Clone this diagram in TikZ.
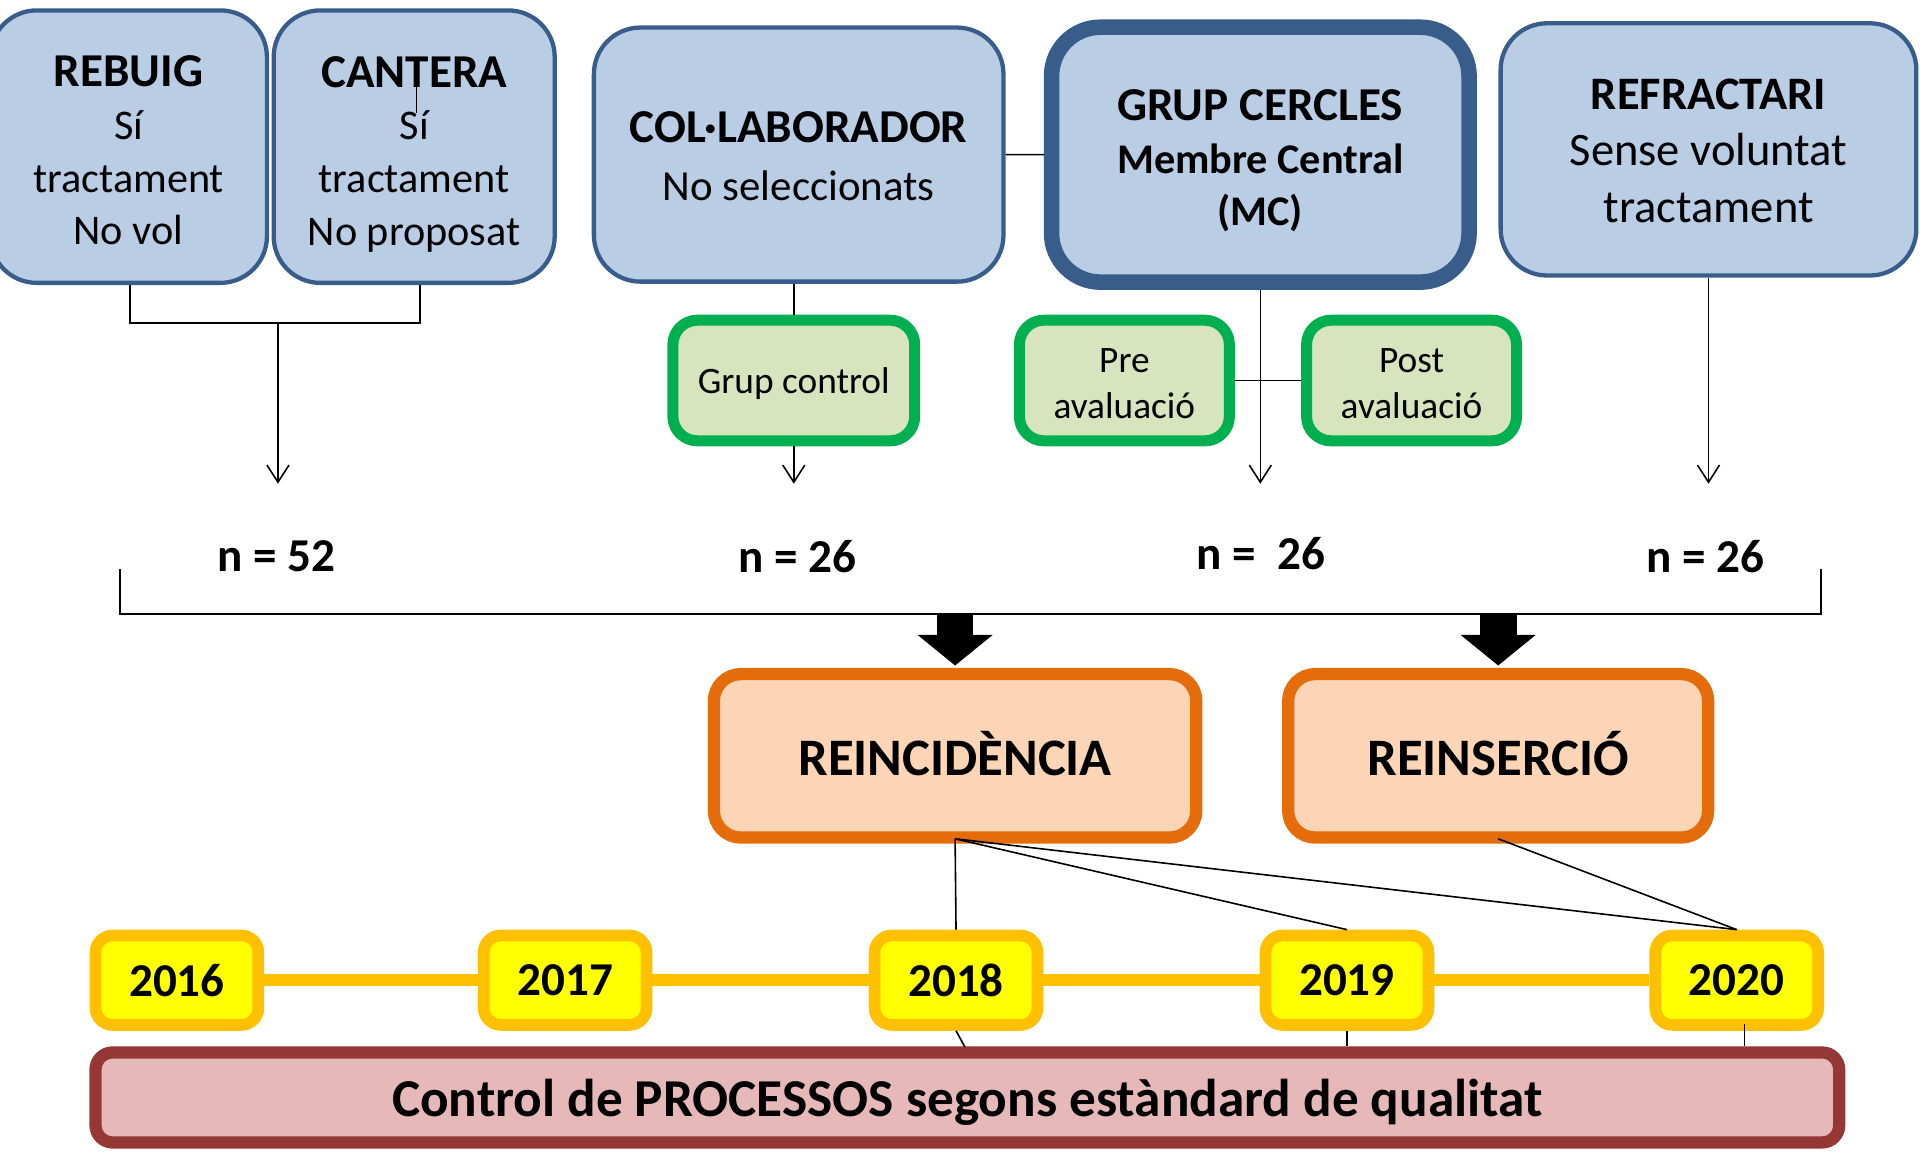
\documentclass[tikz,border=0pt]{standalone}
\usepackage{fontspec}
\setmainfont{Carlito}
\usetikzlibrary{arrows.meta}
\definecolor{bfill}{HTML}{B9CDE5}
\definecolor{bline}{HTML}{385D8A}
\definecolor{gfill}{HTML}{D7E4BD}
\definecolor{gline}{HTML}{00B050}
\definecolor{ofill}{HTML}{FBD5B5}
\definecolor{oline}{HTML}{E46C0A}
\definecolor{yfill}{HTML}{FFFF00}
\definecolor{yline}{HTML}{FFC000}
\definecolor{rfill}{HTML}{E6B9B8}
\definecolor{rline}{HTML}{953735}
\newcommand\ttl[1]{{\fontsize{38.5}{43}\selectfont\bfseries #1}}
\newcommand\tallr[1]{\rule{0pt}{#1}}
\begin{document}
\begin{tikzpicture}[x=1pt,y=-1pt,
 box/.style={rectangle, inner sep=0pt, align=center, text=black},
 bluebox/.style={box, fill=bfill, draw=bline, line width=3.5pt, rounded corners=38pt},
 greenbox/.style={box, fill=gfill, draw=gline, line width=9pt, rounded corners=20pt,
   minimum height=98.5pt, font=\fontsize{30.5}{37}\selectfont},
 orangebox/.style={box, fill=ofill, draw=oline, line width=10pt, rounded corners=22pt,
   minimum height=133.5pt, font=\fontsize{43}{50}\selectfont\bfseries, text depth=4pt},
 yearbox/.style={box, fill=yfill, draw=yline, line width=9.6pt, rounded corners=14pt,
   minimum width=133pt, minimum height=73pt, font=\fontsize{38.5}{44}\selectfont\bfseries},
 redbox/.style={box, fill=rfill, draw=rline, line width=10pt, rounded corners=14pt,
   font=\fontsize{43.5}{50}\selectfont\bfseries},
 conn/.style={draw=black, line width=1.3pt},
 arr/.style={conn, -{Straight Barb[length=14pt,width=18pt]}},
 nlabel/.style={font=\fontsize{38.5}{44}\selectfont\bfseries, inner sep=0pt},
 bigarrow/.style={draw=black, line width=30pt, -{Triangle[length=25pt,width=60pt]}, shorten >=2pt},
]
\useasboundingbox (0,0) rectangle (1568,942);

% top blue boxes
\node[bluebox, minimum width=226pt, minimum height=222.5pt, font=\fontsize{34.5}{43}\selectfont]
  (rebuig) at (105,119.75) {\tallr{31.5pt}\ttl{REBUIG}\\Sí\\tractament\\No vol};
\node[bluebox, minimum width=229.5pt, minimum height=222.5pt, font=\fontsize{34.5}{43}\selectfont]
  (cantera) at (338.25,119.75) {\tallr{37.5pt}\ttl{CANTERA}\\Sí\\tractament\\No proposat};
\node[bluebox, minimum width=334.5pt, minimum height=207.5pt, font=\fontsize{35}{47.5}\selectfont]
  (colab) at (652.25,126.25) {\tallr{28.5pt}\ttl{COL·LABORADOR}\\No seleccionats};
\node[bluebox, line width=12.7pt, rounded corners=40pt, minimum width=341pt, minimum height=208.2pt,
  font=\fontsize{34.5}{43}\selectfont\bfseries]
  (grup) at (1029.25,126.3) {\tallr{35.5pt}\ttl{GRUP CERCLES}\\Membre Central\\(MC)};
\node[bluebox, minimum width=339.5pt, minimum height=206pt, font=\fontsize{38}{46}\selectfont]
  (refr) at (1395.25,122) {\tallr{27pt}\textbf{REFRACTARI}\\Sense voluntat\\tractament};

% green boxes
\node[greenbox, minimum width=197.5pt, text depth=-6pt] (gcontrol) at (648.25,310.75) {Grup control};
\node[greenbox, minimum width=171.5pt] (pre) at (918.25,310.75) {\tallr{24.5pt}Pre\\avaluació};
\node[greenbox, minimum width=171.5pt] (post) at (1152.75,310.75) {\tallr{24.5pt}Post\\avaluació};

% n labels
\node[nlabel] (n1) at (226,454.5) {n = 52};
\node[nlabel] (n2) at (651,454.5) {n = 26};
\node[nlabel] (n3) at (1030,452) {n =\ \ 26};
\node[nlabel] (n4) at (1393,454.5) {n = 26};

% orange boxes
\node[orangebox, minimum width=394pt] (reinc) at (780,617.25) {REINCIDÈNCIA};
\node[orangebox, minimum width=343pt] (reins) at (1223.5,617.25) {REINSERCIÓ};

% year boxes
\node[yearbox] (y2016) at (144.5,800.5) {2016};
\node[yearbox] (y2017) at (461.5,800.5) {2017};
\node[yearbox] (y2018) at (780.75,800.5) {2018};
\node[yearbox] (y2019) at (1100,800.5) {2019};
\node[yearbox] (y2020) at (1418.3,800.5) {2020};

% timeline bar
\draw[yline, line width=10pt] (y2016.east) -- (y2017.west);
\draw[yline, line width=10pt] (y2017.east) -- (y2018.west);
\draw[yline, line width=10pt] (y2018.east) -- (y2019.west);
\draw[yline, line width=10pt] (y2019.east) -- (y2020.west);

% control box
\node[redbox, minimum width=1424pt, minimum height=73.5pt, text depth=-1pt] (ctrl) at (790,896.25)
  {Control de PROCESSOS segons estàndard de qualitat};

% connectors, top part
\coordinate (bk1) at (106,264);
\coordinate (bk2) at (343,264);
\coordinate (a1) at (227,264);
\coordinate (a1e) at (227,395);
\coordinate (w1) at (340,70);
\coordinate (w2) at (340,92.6);
\draw[conn] (w1) -- (w2);
\draw[conn] (rebuig.south -| bk1) -- (bk1) -- (bk2) -- (cantera.south -| bk2);
\draw[arr] (a1) -- (a1e);
\draw[conn] (gcontrol.north |- colab.south) -- (gcontrol.north);
\draw[arr] (gcontrol.south) -- (gcontrol.south |- a1e);
\draw[conn] (colab.east) -- (grup.west);
\draw[arr] (grup.south) -- (grup.south |- a1e);
\draw[conn] (pre.east) -- (post.west);
\draw[arr] (refr.south) -- (refr.south |- a1e);

% bracket
\coordinate (bl) at (98,465);
\coordinate (blb) at (98,501.4);
\coordinate (brb) at (1487,501.4);
\coordinate (br) at (1487,465);
\draw[line width=2pt] (bl) -- (blb) -- (brb) -- (br);

% big arrows
\coordinate (ba1) at (reinc.north |- blb);
\coordinate (ba2) at (reins.north |- blb);
\draw[bigarrow] (ba1) -- (reinc.north);
\draw[bigarrow] (ba2) -- (reins.north);

% lines to years
\coordinate (rs) at ([yshift=4pt]reinc.south);
\coordinate (ss) at ([yshift=4pt]reins.south);
\draw[conn] (rs) -- (y2018.north);
\draw[conn] (rs) -- (y2019.north);
\draw[conn] (rs) -- (y2020.north);
\draw[conn] (ss) -- (y2020.north);

% lines from years down to control box
\coordinate (c18) at (788,855);
\draw[conn] (y2018.south) -- (c18);
\draw[conn] (y2019.south) -- (y2019.south |- ctrl.north);
\coordinate (t20) at (1424.6,836);
\draw[conn] (t20) -- (t20 |- ctrl.north);
\end{tikzpicture}
\end{document}
